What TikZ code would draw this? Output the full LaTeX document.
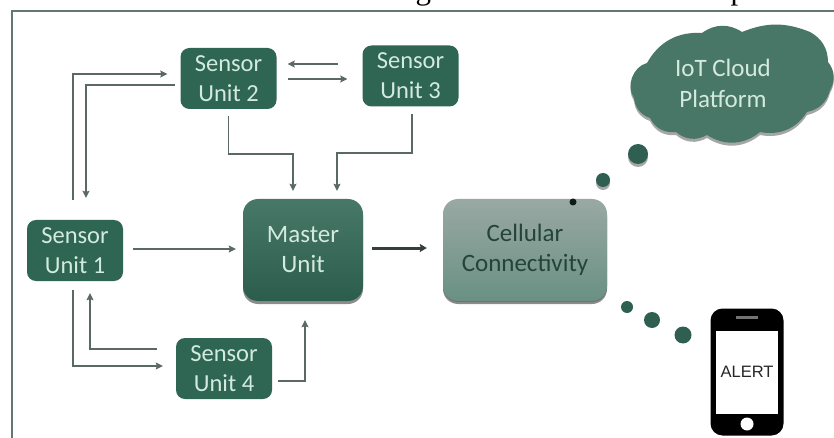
\documentclass[tikz,border=0pt]{standalone}
\usepackage{fontspec}
\setmainfont{Carlito}
\newfontfamily\serifcut{Liberation Serif}
\newfontfamily\alertfont{Liberation Sans}
\usetikzlibrary{arrows.meta,shadows,calc}
\definecolor{sensorgreen}{HTML}{2F6553}
\definecolor{minttext}{HTML}{D3EADF}
\definecolor{wirec}{HTML}{5A6963}
\definecolor{framec}{HTML}{66776F}
\definecolor{dotc}{HTML}{2E5F50}
\definecolor{celltext}{HTML}{24443A}
\tikzset{
  x=1pt,y=-1pt,
  sensorbox/.style={draw=none,fill=sensorgreen,rounded corners=9pt,minimum width=96pt,minimum height=61pt,
    text=minttext,align=center,font=\fontsize{24.5}{30}\selectfont,inner sep=0pt},
  masterbox/.style={draw=none,rounded corners=15pt,minimum width=120pt,minimum height=102pt,
    align=center,inner sep=0pt,font=\fontsize{25}{30}\selectfont,
    drop shadow={shadow xshift=0pt,shadow yshift=-3pt,opacity=.45,fill=black}},
  conn/.style={draw=wirec,line width=1.3pt,-{Stealth[length=7pt,width=7pt,inset=1pt]},line join=miter},
  thickconn/.style={draw=wirec!60!black,line width=3pt,-{Stealth[length=7pt,width=8pt,inset=1pt]}},
  dotn/.style={circle,fill=dotc,draw=none,inner sep=0pt},
  softshadow/.style={drop shadow={shadow xshift=0pt,shadow yshift=-3pt,opacity=.35,fill=black}},
}
\begin{document}
\begin{tikzpicture}
\useasboundingbox (0,0) rectangle (834,438);
\fill[white] (0,0) rectangle (834,438);
% cut-off line of text above the frame
\node[anchor=base west,inner sep=0pt,font=\serifcut\fontsize{31}{34}\selectfont,text=black] (cut) at (-15,0)
  {connected at the remote server for generation of alerts and updates};
% frame
\draw[framec,line width=1.8pt] (12,438) -- (12,11) -- (834,11);
% nodes
\node[sensorbox] (s2) at (228.5,78.5) {Sensor\\Unit 2};
\node[sensorbox] (s3) at (410.5,76) {Sensor\\Unit 3};
\node[sensorbox] (s1) at (75,250.5) {Sensor\\Unit 1};
\node[sensorbox] (s4) at (224,368.5) {Sensor\\Unit 4};
\node[masterbox,top color=sensorgreen!88!white,bottom color=sensorgreen!92!black,text=minttext] (m) at (303,250) {Master\\Unit};
\node[masterbox,top color=black!38!sensorgreen!45!white,bottom color=sensorgreen!72!white,text=celltext,minimum width=164pt,drop shadow={shadow xshift=0pt,shadow yshift=-1pt,opacity=.2,fill=black}] (c) at (525,250) {Cellular\\Connectivity};
% cloud
\path[fill=sensorgreen!88!white,softshadow]
  (634,98) to[bend left=55] (647,63) to[bend left=32] (702,33) to[bend left=35] (742,32)
  to[bend left=22] (810,32) to[bend left=30] (828,62) to[bend left=35] (830,90) to[bend left=32] (807,112)
  to[bend left=34] (760,132) to[bend left=36] (707,135) to[bend left=35] (676,132) to[bend left=35] (650,118)
  to[bend left=32] cycle;
\node[inner sep=0pt,text=minttext,align=center,font=\fontsize{25}{31}\selectfont] (cl) at (723,83) {IoT Cloud\\Platform};
% dots
\node[dotn,minimum size=20pt,softshadow] (d1) at (638,154) {};
\node[dotn,minimum size=14pt,softshadow] (d2) at (603,180) {};
\node[dotn,minimum size=7pt,fill=black!70!dotc] (d3) at (573,202) {};
\node[dotn,minimum size=12pt] (d4) at (627,307) {};
\node[dotn,minimum size=16pt] (d5) at (652,320) {};
\node[dotn,minimum size=17pt] (d6) at (683,335) {};
% phone
\node[draw=none,fill=black,rounded corners=12pt,minimum width=73pt,minimum height=127pt,inner sep=0pt] (ph) at (747,372) {};
\node[draw=none,fill=white,minimum width=62pt,minimum height=83pt,inner sep=0pt,font=\alertfont\fontsize{16.5}{18}\selectfont,text=black!85] (scr) at (747,372) {ALERT};
\node[draw=none,fill=black!55,minimum width=22pt,minimum height=3pt,inner sep=0pt] (spk) at (747,317) {};
\node[circle,fill=white,minimum size=13pt,inner sep=0pt] (hb) at (747,424) {};
% connectors
\draw[conn,shorten <=20pt,shorten >=13pt] ([xshift=-2pt]s1.north) |- ([yshift=4.5pt]s2.west);
\draw[conn,shorten <=5pt,shorten >=22pt] ([yshift=-6.5pt]s2.west) -| ([xshift=11pt]s1.north);
\draw[conn,shorten <=24pt,shorten >=11pt] ([yshift=12pt]s3.west) -- ([yshift=14.5pt]s2.east);
\draw[conn,shorten <=11pt,shorten >=15pt] ([yshift=-.5pt]s2.east) -- ([yshift=-3pt]s3.west);
\draw[conn,shorten <=7pt,shorten >=8pt] (s2.south) |- (293,154) -- ([xshift=-10pt]m.north);
\draw[conn,shorten <=7pt,shorten >=8pt] ([xshift=1.5pt]s3.south) |- (337,153) -- ([xshift=34pt]m.north);
\draw[conn,shorten <=10pt,shorten >=7pt] ([yshift=1.5pt]s1.east) -- ([yshift=1pt]m.west);
\draw[thickconn,shorten <=9pt,shorten >=16pt] ([yshift=2pt]m.east) -- ([yshift=2pt]c.west);
\draw[conn,shorten <=9pt,shorten >=13pt] ([xshift=-2pt]s1.south) |- ([yshift=2.5pt]s4.west);
\draw[conn,shorten <=19pt,shorten >=12pt] ([yshift=19.5pt]s4.west) -| ([xshift=15pt]s1.south);
\draw[conn,shorten <=6pt,shorten >=19pt] ([yshift=-12.5pt]s4.east) -| ([xshift=2pt]m.south);
\end{tikzpicture}
\end{document}
